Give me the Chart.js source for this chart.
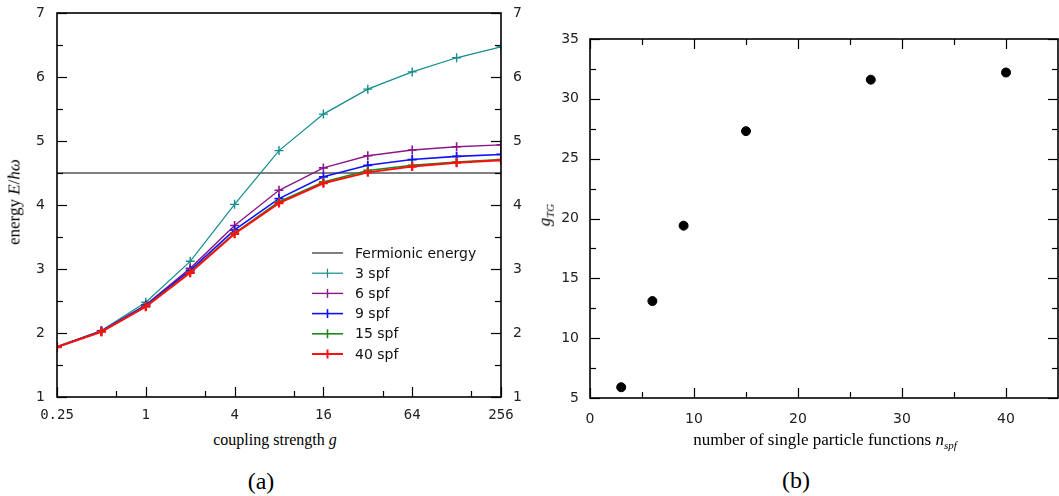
<!DOCTYPE html>
<html><head><meta charset="utf-8">
<script src="https://cdn.jsdelivr.net/npm/chart.js@4.4.0/dist/chart.umd.min.js"></script>
<style>
html,body{margin:0;padding:0;background:#fff;width:1059px;height:496px;overflow:hidden;}
#wrap{position:relative;width:1059px;height:496px;}
canvas{position:absolute;}
.lbl{position:absolute;font-family:"Liberation Serif","DejaVu Serif",serif;color:#000;white-space:nowrap;transform:translate(-50%,-50%);line-height:1;}
.rot{transform:translate(-50%,-50%) rotate(-90deg);}
</style></head>
<body><div id="wrap">
<canvas id="c1" width="530" height="430" style="left:0;top:0"></canvas>
<canvas id="c2" width="519" height="430" style="left:540px;top:0"></canvas>
<div class="lbl" style="left:275px;top:440px;font-size:16px">coupling strength <i>g</i></div>
<div class="lbl rot" style="left:14px;top:202px;font-size:17px">energy <i>E</i>/<i>ħω</i></div>
<div class="lbl" style="left:825px;top:441px;font-size:17px">number of single particle functions <i>n<sub style="font-size:11px">spf</sub></i></div>
<div class="lbl rot" style="left:546px;top:215px;font-size:17px"><i>g<sub style="font-size:11px">TG</sub></i></div>
<div class="lbl" style="left:261px;top:481px;font-size:24px">(a)</div>
<div class="lbl" style="left:796px;top:480px;font-size:24px">(b)</div>
</div>
<script>
// ---- data (panel a) ----
const gValues = [0.25, 0.5, 1, 2, 4, 8, 16, 32, 64, 128, 256];
const spf3  = [1.79, 2.04, 2.48, 3.12, 4.01, 4.85, 5.42, 5.81, 6.08, 6.30, 6.47];
const spf6  = [1.78, 2.03, 2.44, 3.01, 3.68, 4.23, 4.58, 4.77, 4.86, 4.91, 4.94];
const spf9  = [1.78, 2.03, 2.43, 2.98, 3.61, 4.10, 4.44, 4.62, 4.71, 4.76, 4.79];
const spf15 = [1.78, 2.02, 2.42, 2.95, 3.56, 4.05, 4.36, 4.54, 4.62, 4.67, 4.71];
const spf40 = [1.78, 2.02, 2.41, 2.94, 3.55, 4.03, 4.34, 4.51, 4.60, 4.66, 4.70];
const fermionicEnergy = 4.5;
const seriesLabels = ["Fermionic energy", "3 spf", "6 spf", "9 spf", "15 spf", "40 spf"];
const gTickLabels = [0.25, 1, 4, 16, 64, 256];
const gMinorTicks = [0.63, 2.52, 10.08, 40.3, 161.3];
const energyTicks = [1, 2, 3, 4, 5, 6, 7];
const energyMinorTicks = [1.5, 2.5, 3.5, 4.5, 5.5, 6.5];

// ---- data (panel b) ----
const nSpf = [3, 6, 9, 15, 27, 40];
const gTG  = [5.9, 13.1, 19.4, 27.3, 31.6, 32.2];
const nTicks = [0, 10, 20, 30, 40];
const nMinorTicks = [5, 15, 25, 35];
const gTGTicks = [5, 10, 15, 20, 25, 30, 35];
const gTGMinorTicks = [7.5, 12.5, 17.5, 22.5, 27.5, 32.5];

const colors = ["#000000", "#128c8c", "#8b178b", "#1010ff", "#1a8a1a", "#ff1010"];
const widths = [1, 1.2, 1.4, 1.6, 1.6, 2];

const TICK_FONT = {family: "'DejaVu Sans', sans-serif", size: 14};
const MONO_FONT = {family: "'DejaVu Sans Mono', monospace", size: 14};

function pts(xs, ys){ return xs.map((x,i)=>({x:x, y:ys[i]})); }
function noPad(s){ s.paddingLeft = 0; s.paddingRight = 0; s.paddingTop = 0; s.paddingBottom = 0; }

function frameTicks(spec){
  return {
    id: 'frameTicks',
    afterDraw(chart){
      const ctx = chart.ctx, a = chart.chartArea;
      const xs = chart.scales.x, ys = chart.scales.y;
      ctx.save();
      ctx.strokeStyle = '#000';
      ctx.lineWidth = 1.2;
      const tick = (x1,y1,x2,y2)=>{ctx.beginPath();ctx.moveTo(x1,y1);ctx.lineTo(x2,y2);ctx.stroke();};
      const MAJ = 10, MIN = 6;
      (spec.xMajor||[]).forEach(v=>{const p=Math.round(xs.getPixelForValue(v))+0.5;
        if (spec.xBottom) tick(p,a.bottom,p,a.bottom-MAJ);
        if (spec.xTop) tick(p,a.top,p,a.top+MAJ);});
      (spec.xMinor||[]).forEach(v=>{const p=Math.round(xs.getPixelForValue(v))+0.5;
        if (spec.xBottom) tick(p,a.bottom,p,a.bottom-MIN);
        if (spec.xTop) tick(p,a.top,p,a.top+MIN);});
      (spec.yMajor||[]).forEach(v=>{const p=Math.round(ys.getPixelForValue(v))+0.5;
        tick(a.left,p,a.left+MAJ,p); tick(a.right,p,a.right-MAJ,p);});
      (spec.yMinor||[]).forEach(v=>{const p=Math.round(ys.getPixelForValue(v))+0.5;
        tick(a.left,p,a.left+MIN,p); tick(a.right,p,a.right-MIN,p);});
      ctx.lineWidth = 1.6;
      ctx.strokeRect(a.left, a.top, a.right-a.left, a.bottom-a.top);
      if (spec.legend){
        const L = spec.legend;
        ctx.font = "14px 'DejaVu Sans', sans-serif";
        ctx.textBaseline = 'middle';
        ctx.fillStyle = '#111';
        chart.data.datasets.forEach((ds,i)=>{
          const y = L.y + i*L.dy;
          ctx.strokeStyle = ds.borderColor;
          ctx.lineWidth = ds.borderWidth;
          tick(L.x, y, L.x+L.w, y);
          if (ds.pointRadius > 0){
            const cx = L.x + L.w/2;
            tick(cx, y-4.5, cx, y+4.5);
          }
          ctx.fillText(ds.label, L.x+L.w+12, y+1);
        });
      }
      ctx.restore();
    }
  };
}

const dsA = [];
dsA.push({label: seriesLabels[0], data: pts([gValues[0], gValues[gValues.length-1]], [fermionicEnergy, fermionicEnergy]),
  borderColor: colors[0], borderWidth: widths[0], pointRadius: 0, order: 5});
[spf3, spf6, spf9, spf15, spf40].forEach((arr, k)=>{
  const i = k+1;
  dsA.push({label: seriesLabels[i], data: pts(gValues, arr), borderColor: colors[i], backgroundColor: colors[i],
    borderWidth: widths[i], pointStyle: 'cross', pointRadius: 4.5, pointBorderWidth: widths[i]+0.2,
    pointBorderColor: colors[i], tension: 0, order: 5-i});
});

new Chart(document.getElementById('c1'), {
  type: 'line',
  data: {datasets: dsA},
  options: {
    responsive: false, animation: false,
    layout: {autoPadding: false, padding: {top: 13, left: 0, right: 0, bottom: 0}},
    plugins: {legend: {display: false}, tooltip: {enabled: false}},
    scales: {
      x: {type: 'logarithmic', min: 0.25, max: 256, position: 'bottom',
        afterBuildTicks: s => { s.ticks = gTickLabels.map(v=>({value: v})); },
        afterFit: s => { s.height = 33; noPad(s); },
        grid: {display: false, drawTicks: false, tickLength: 0}, border: {display: false},
        ticks: {font: MONO_FONT, color: '#222', padding: 10, maxRotation: 0, autoSkip: false,
          callback: v => String(v)}},
      y: {type: 'linear', min: 1, max: 7, position: 'left',
        afterBuildTicks: s => { s.ticks = energyTicks.map(v=>({value: v})); },
        afterFit: s => { s.width = 57; noPad(s); },
        grid: {display: false, drawTicks: false, tickLength: 0}, border: {display: false},
        ticks: {font: TICK_FONT, color: '#222', padding: 12}},
      y2: {type: 'linear', min: 1, max: 7, position: 'right',
        afterBuildTicks: s => { s.ticks = energyTicks.map(v=>({value: v})); },
        afterFit: s => { s.width = 29; noPad(s); },
        grid: {display: false, drawTicks: false, tickLength: 0}, border: {display: false},
        ticks: {font: TICK_FONT, color: '#222', padding: 12}}
    }
  },
  plugins: [frameTicks({xMajor: gTickLabels, xMinor: gMinorTicks, xBottom: true, xTop: false,
    yMajor: energyTicks, yMinor: energyMinorTicks,
    legend: {x: 312, y: 253, dy: 20.2, w: 31}})]
});

new Chart(document.getElementById('c2'), {
  type: 'scatter',
  data: {datasets: [{label: 'g_TG', data: pts(nSpf, gTG), backgroundColor: '#000', borderColor: '#000',
    pointRadius: 4.5, pointStyle: 'circle'}]},
  options: {
    responsive: false, animation: false,
    layout: {autoPadding: false, padding: {top: 39, left: 0, right: 1, bottom: 0}},
    plugins: {legend: {display: false}, tooltip: {enabled: false}},
    scales: {
      x: {type: 'linear', min: 0, max: 45, position: 'bottom',
        afterBuildTicks: s => { s.ticks = nTicks.map(v=>({value: v})); },
        afterFit: s => { s.height = 32; noPad(s); },
        grid: {display: false, drawTicks: false, tickLength: 0}, border: {display: false},
        ticks: {font: TICK_FONT, color: '#222', padding: 13, maxRotation: 0, autoSkip: false}},
      y: {type: 'linear', min: 5, max: 35, position: 'left',
        afterBuildTicks: s => { s.ticks = gTGTicks.map(v=>({value: v})); },
        afterFit: s => { s.width = 50; noPad(s); },
        grid: {display: false, drawTicks: false, tickLength: 0}, border: {display: false},
        ticks: {font: TICK_FONT, color: '#222', padding: 11}}
    }
  },
  plugins: [frameTicks({xMajor: nTicks, xMinor: nMinorTicks, xBottom: true, xTop: true,
    yMajor: gTGTicks, yMinor: gTGMinorTicks})]
});
</script>
</body></html>
